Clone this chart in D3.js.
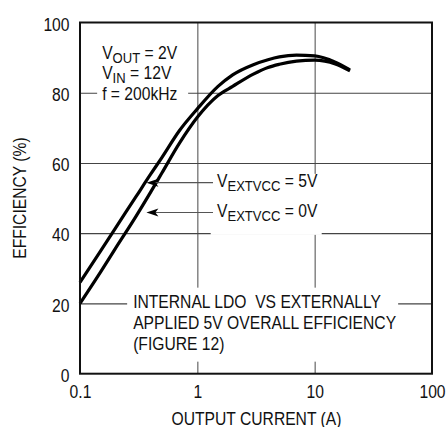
<!DOCTYPE html>
<html>
<head>
<meta charset="utf-8">
<script src="https://cdn.jsdelivr.net/npm/d3@7"></script>
<style>
  body { margin: 0; background: #fff; }
  svg text {
    font-family: "Liberation Sans", Arial, sans-serif;
    font-size: 18px;
    fill: #111;
    white-space: pre;
  }
</style>
</head>
<body>
<div id="chart"></div>
<script>
// output current (A) and efficiency (%)
const currentA = [0.1, 0.15, 0.2, 0.3, 0.4, 0.5, 0.7, 1, 1.5, 2, 3, 4, 5, 7, 10, 15, 20];
const effExt5V = [26, 35, 41.4, 50.4, 56.8, 61.6, 69.1, 75.4, 81.8, 85.1, 88.0, 89.4, 90.2, 90.7, 90.5, 88.7, 86.5];
const effExt0V = [20, 29, 35.6, 44.8, 51.7, 57.2, 65.5, 73.0, 79.2, 81.8, 85.3, 87.2, 88.1, 89.0, 89.3, 88.2, 86.2];

const xTicks = [0.1, 1, 10, 100];
const xTickLabels = ["0.1", "1", "10", "100"];
const yTicks = [0, 20, 40, 60, 80, 100];

// annotation text, [text, isSubscript]
const condLines = [
  [["V"], ["OUT", true], [" = 2V"]],
  [["V"], ["IN", true], [" = 12V"]],
  [["f = 200kHz"]]
];
const arrowLabels = [
  { eff: 54.4, parts: [["V"], ["EXTVCC", true], [" = 5V"]] },
  { eff: 45.9, parts: [["V"], ["EXTVCC", true], [" = 0V"]] }
];
const noteLines = ["INTERNAL LDO  VS EXTERNALLY", "APPLIED 5V OVERALL EFFICIENCY", "(FIGURE 12)"];

const SX = 0.87; // condensed type
const W = 447, H = 427;
var margin = {top: 22.5, right: 15, bottom: 53.3, left: 80},
    width = W - margin.left - margin.right,
    height = H - margin.top - margin.bottom;

const svg = d3.select("#chart").append("svg")
  .attr("width", W).attr("height", H);

const x = d3.scaleLog().domain([0.1, 100]).range([margin.left, margin.left + width]);
const y = d3.scaleLinear().domain([0, 100]).range([margin.top + height, margin.top]);

// gridlines
svg.append("g")
  .attr("transform", `translate(0,${margin.top + height})`)
  .call(d3.axisBottom(x).tickValues([1, 10]).tickSize(-height).tickFormat(""))
  .call(g => g.select(".domain").remove())
  .call(g => g.selectAll("line").attr("stroke", "#666").attr("stroke-width", 1.2));

svg.append("g")
  .attr("transform", `translate(${margin.left},0)`)
  .call(d3.axisLeft(y).tickValues([20, 40, 60, 80]).tickSize(-width).tickFormat(""))
  .call(g => g.select(".domain").remove())
  .call(g => g.selectAll("line").attr("stroke", "#444").attr("stroke-width", 1.2));

// white boxes that break the grid behind the text
const boxes = [
  [x(0.14), y(80) - 55, 91, 66],
  [x(1.3), y(56.9), 111, 61],
  [x(0.14) + 30, y(24.5), 271, 74]
];
svg.selectAll(".box").data(boxes).join("rect")
  .attr("class", "box")
  .attr("x", d => d[0]).attr("y", d => d[1])
  .attr("width", d => d[2]).attr("height", d => d[3])
  .attr("fill", "#fff");

// curves
const line = d3.line()
  .x(d => x(d[0]))
  .y(d => y(d[1]))
  .curve(d3.curveMonotoneX);

[effExt5V, effExt0V].forEach(series => {
  svg.append("path")
    .datum(currentA.map((c, i) => [c, series[i]]))
    .attr("d", line)
    .attr("fill", "none")
    .attr("stroke", "#000")
    .attr("stroke-width", 3.2);
});

// frame
svg.append("rect")
  .attr("x", margin.left).attr("y", margin.top)
  .attr("width", width).attr("height", height)
  .attr("fill", "none").attr("stroke", "#111").attr("stroke-width", 2);

// tick labels
svg.append("g")
  .attr("transform", `translate(${margin.left},0)`)
  .call(d3.axisLeft(y).tickValues(yTicks).tickSize(0).tickPadding(10.5))
  .call(g => g.select(".domain").remove())
  .call(g => g.selectAll("text")
    .attr("dy", null).attr("y", 7.7).attr("fill", null)
    .attr("x", -10.5 / SX).attr("transform", `scale(${SX},1)`));

svg.append("g")
  .attr("transform", `translate(0,${margin.top + height})`)
  .call(d3.axisBottom(x).tickValues(xTicks).tickSize(0).tickFormat((d, i) => xTickLabels[i]))
  .call(g => g.select(".domain").remove())
  .call(g => g.selectAll("text")
    .attr("dy", null).attr("y", 24.5).attr("fill", null)
    .attr("transform", `scale(${SX},1)`));

function plainText(px, py, str, anchor) {
  return svg.append("text")
    .attr("transform", `translate(${px},${py}) scale(${SX},1)`)
    .attr("text-anchor", anchor || "start")
    .text(str);
}

// axis titles
plainText((x(0.1) + x(100)) / 2 + 0.5, 424.5, "OUTPUT CURRENT (A)", "middle");

svg.append("text")
  .attr("transform", `translate(26,${(y(0) + y(100)) / 2}) rotate(-90) scale(${SX},1)`)
  .attr("text-anchor", "middle")
  .text("EFFICIENCY (%)");

function richText(px, py, parts) {
  const t = svg.append("text").attr("transform", `translate(${px},${py}) scale(${SX},1)`);
  let shift = 0;
  parts.forEach(p => {
    const s = t.append("tspan").text(p[0]);
    if (p[1]) {
      s.attr("font-size", "15px").attr("dy", 4 - shift);
      shift = 4;
    } else if (shift) {
      s.attr("dy", -shift);
      shift = 0;
    }
  });
  return t;
}

// operating conditions
condLines.forEach((parts, i) => {
  richText(x(0.14) + 5, y(80) + 7 - (2 - i) * 20.5, parts);
});

// arrows + labels
const tipX = x(0.368), tailX = x(1.36);
arrowLabels.forEach(a => {
  const ay = y(a.eff);
  svg.append("line")
    .attr("x1", tipX + 8).attr("x2", tailX)
    .attr("y1", ay).attr("y2", ay)
    .attr("stroke", "#555").attr("stroke-width", 1.2);
  svg.append("path")
    .attr("d", `M${tipX},${ay} L${tipX + 12},${ay - 4} L${tipX + 9},${ay} L${tipX + 12},${ay + 4} Z`)
    .attr("fill", "#000");
  richText(tailX + 4, ay + 4.6, a.parts);
});

// note
noteLines.forEach((t, i) => {
  plainText(x(0.14) + 36, y(20) + 4.7 + i * 20.7, t);
});
</script>
</body>
</html>
